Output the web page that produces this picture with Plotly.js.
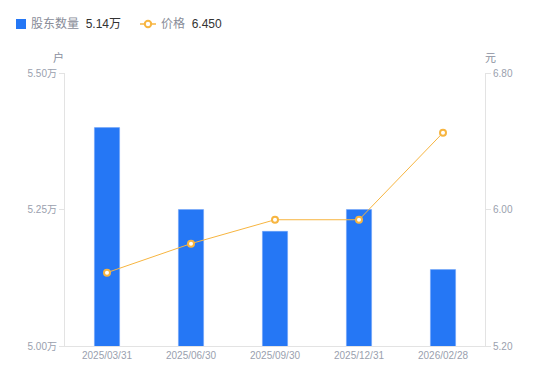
<!DOCTYPE html>
<html><head><meta charset="utf-8">
<script src="https://cdn.plot.ly/plotly-3.0.1.min.js"></script>
<style>html,body{margin:0;padding:0;background:#fff}#c{width:550px;height:381px}</style>
</head><body><div id="c"></div>
<script>
const categories = ["2025/03/31","2025/06/30","2025/09/30","2025/12/31","2026/02/28"];
const holders = [5.40, 5.25, 5.21, 5.25, 5.14];
const prices = [5.63, 5.80, 5.94, 5.94, 6.45];
const leftTicks = [5.00, 5.25, 5.50];
const rightTicks = [5.20, 6.00, 6.80];
const holderName = "股东数量";
const priceName = "价格";
const holderLatest = "5.14万";
const priceLatest = "6.450";

const font = "Liberation Sans, Arial, Noto Sans CJK SC, sans-serif";
const tickCol = "#9a9fae";
const axisCol = "#e3e3e3";
const barCol = "#2577f5";
const lineCol = "#f7b540";

// plot area in pixels, used to place the hand-made legend
const L = 65, R = 485, T = 73, B = 346;
const px = v => (v - L) / (R - L);
const py = v => (B - v) / (B - T);

const data = [
  {type:"bar", x:categories, y:holders, yaxis:"y", width:0.3, name:holderName,
   marker:{color:barCol, line:{color:"#6ea3f8", width:0.5}}, hoverinfo:"skip"},
  {type:"scatter", mode:"lines+markers", x:categories, y:prices, yaxis:"y2", name:priceName,
   line:{color:lineCol, width:1},
   marker:{color:"#ffffff", size:6, line:{color:lineCol, width:2}}, hoverinfo:"skip"}
];

const legY = py(24);
const layout = {
  width:550, height:381,
  margin:{l:L, r:550-R, t:T, b:381-B},
  paper_bgcolor:"#fff", plot_bgcolor:"#fff",
  font:{family:font, size:10, color:tickCol},
  showlegend:false,
  xaxis:{type:"category", showgrid:false, showline:true, linecolor:axisCol, linewidth:1,
         ticks:"", tickfont:{size:10, color:tickCol}, zeroline:false, fixedrange:true},
  yaxis:{range:[5.00,5.50], tickvals:leftTicks, ticktext:leftTicks.map(v=>v.toFixed(2)+"万"),
         showgrid:false, showline:true, linecolor:axisCol, ticks:"outside", ticklen:5,
         tickcolor:axisCol, zeroline:false, tickfont:{size:10,color:tickCol}},
  yaxis2:{range:[5.20,6.80], tickvals:rightTicks, ticktext:rightTicks.map(v=>v.toFixed(2)),
         overlaying:"y", side:"right", showgrid:false, showline:true, linecolor:axisCol,
         ticks:"outside", ticklen:5, tickcolor:axisCol, zeroline:false,
         tickfont:{size:10,color:tickCol}},
  shapes:[
    {type:"rect", xref:"paper", yref:"paper", x0:px(16), x1:px(26), y0:py(29), y1:py(19),
     fillcolor:barCol, line:{width:0}},
    {type:"line", xref:"paper", yref:"paper", x0:px(140), x1:px(156), y0:legY, y1:legY,
     line:{color:lineCol, width:1.5}},
    {type:"circle", xref:"paper", yref:"paper", xsizemode:"pixel", ysizemode:"pixel",
     xanchor:px(148), yanchor:legY, x0:-3.2, x1:3.2, y0:-3.2, y1:3.2,
     fillcolor:"#fff", line:{color:lineCol, width:2}}
  ],
  annotations:[
    {text:"户", xref:"paper", yref:"paper", x:-0.015, y:1.025, xanchor:"center", yanchor:"bottom",
     showarrow:false, font:{size:11,color:"#8a8f9e"}},
    {text:"元", xref:"paper", yref:"paper", x:1.012, y:1.025, xanchor:"center", yanchor:"bottom",
     showarrow:false, font:{size:11,color:"#8a8f9e"}},
    {text:holderName + "  <span style='color:#333'>" + holderLatest + "</span>",
     xref:"paper", yref:"paper", x:px(29), y:legY, xanchor:"left", yanchor:"middle",
     showarrow:false, font:{size:12, color:"#888c98"}},
    {text:priceName + "  <span style='color:#333'>" + priceLatest + "</span>",
     xref:"paper", yref:"paper", x:px(159), y:legY, xanchor:"left", yanchor:"middle",
     showarrow:false, font:{size:12, color:"#888c98"}}
  ]
};
Plotly.newPlot("c", data, layout, {displayModeBar:false, staticPlot:true});
</script></body></html>
